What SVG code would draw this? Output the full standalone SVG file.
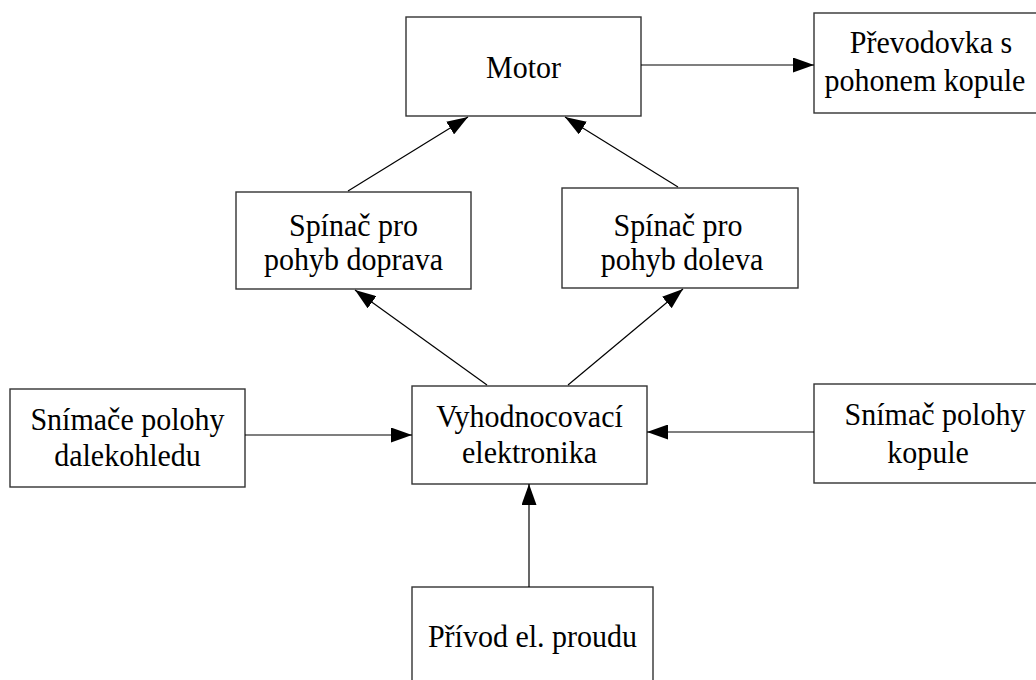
<svg xmlns="http://www.w3.org/2000/svg" width="1036" height="680" viewBox="0 0 1036 680">
  <defs>
    <marker id="arrow" markerUnits="userSpaceOnUse" markerWidth="22" markerHeight="15" refX="21" refY="7.5" orient="auto">
      <path d="M0,0 L21,7.5 L0,15 Z" fill="#000"/>
    </marker>
    <style>
      .box { fill: #fff; stroke: #333; stroke-width: 1.4; }
      .lbl { font-family: "Liberation Serif", "Times New Roman", serif; font-size: 30px; fill: #000; text-anchor: middle; }
      .edge { stroke: #000; stroke-width: 1.2; fill: none; marker-end: url(#arrow); }
    </style>
  </defs>
  <rect width="1036" height="680" fill="#fff"/>

  <!-- labels are slightly stretched vertically: matrix(1 0 0 1.08 x baseline) -->
  <g id="motor">
    <rect class="box" x="406" y="17" width="235" height="99"/>
    <text class="lbl" transform="matrix(1 0 0 1.08 523.5 78)">Motor</text>
  </g>

  <g id="prevodovka">
    <rect class="box" x="814" y="13" width="240" height="100"/>
    <text class="lbl" transform="matrix(1 0 0 1.08 931 53)">Převodovka s</text>
    <text class="lbl" transform="matrix(1 0 0 1.08 925 91)">pohonem kopule</text>
  </g>

  <g id="spinac-doprava">
    <rect class="box" x="236" y="192" width="235" height="97"/>
    <text class="lbl" transform="matrix(1 0 0 1.08 353.5 236)">Spínač pro</text>
    <text class="lbl" transform="matrix(1 0 0 1.08 353.5 270)">pohyb doprava</text>
  </g>

  <g id="spinac-doleva">
    <rect class="box" x="562" y="188" width="236" height="100"/>
    <text class="lbl" transform="matrix(1 0 0 1.08 678 236)">Spínač pro</text>
    <text class="lbl" transform="matrix(1 0 0 1.08 682 270)">pohyb doleva</text>
  </g>

  <g id="snimace-dalekohledu">
    <rect class="box" x="10" y="389" width="235" height="98"/>
    <text class="lbl" transform="matrix(1 0 0 1.08 127.5 430)">Snímače polohy</text>
    <text class="lbl" transform="matrix(1 0 0 1.08 127.5 466)">dalekohledu</text>
  </g>

  <g id="vyhodnocovaci-elektronika">
    <rect class="box" x="412" y="386" width="235" height="98"/>
    <text class="lbl" transform="matrix(1 0 0 1.08 529.5 427)">Vyhodnocovací</text>
    <text class="lbl" transform="matrix(1 0 0 1.08 529.5 463)">elektronika</text>
  </g>

  <g id="snimac-kopule">
    <rect class="box" x="814" y="384" width="240" height="99"/>
    <text class="lbl" transform="matrix(1 0 0 1.08 935 425)">Snímač polohy</text>
    <text class="lbl" transform="matrix(1 0 0 1.08 928 463)">kopule</text>
  </g>

  <g id="privod">
    <rect class="box" x="412" y="587" width="241" height="110"/>
    <text class="lbl" transform="matrix(1 0 0 1.08 532.5 647)">Přívod el. proudu</text>
  </g>

  <g id="connectors">
    <line class="edge" x1="641" y1="65" x2="814" y2="65"/>
    <line class="edge" x1="348" y1="191" x2="468" y2="117"/>
    <line class="edge" x1="678" y1="187" x2="565" y2="117"/>
    <line class="edge" x1="487" y1="385" x2="355" y2="290"/>
    <line class="edge" x1="568" y1="385" x2="683" y2="289"/>
    <line class="edge" x1="245" y1="435" x2="412" y2="435"/>
    <line class="edge" x1="814" y1="432" x2="647" y2="432"/>
    <line class="edge" x1="529" y1="587" x2="529" y2="484"/>
  </g>
</svg>
